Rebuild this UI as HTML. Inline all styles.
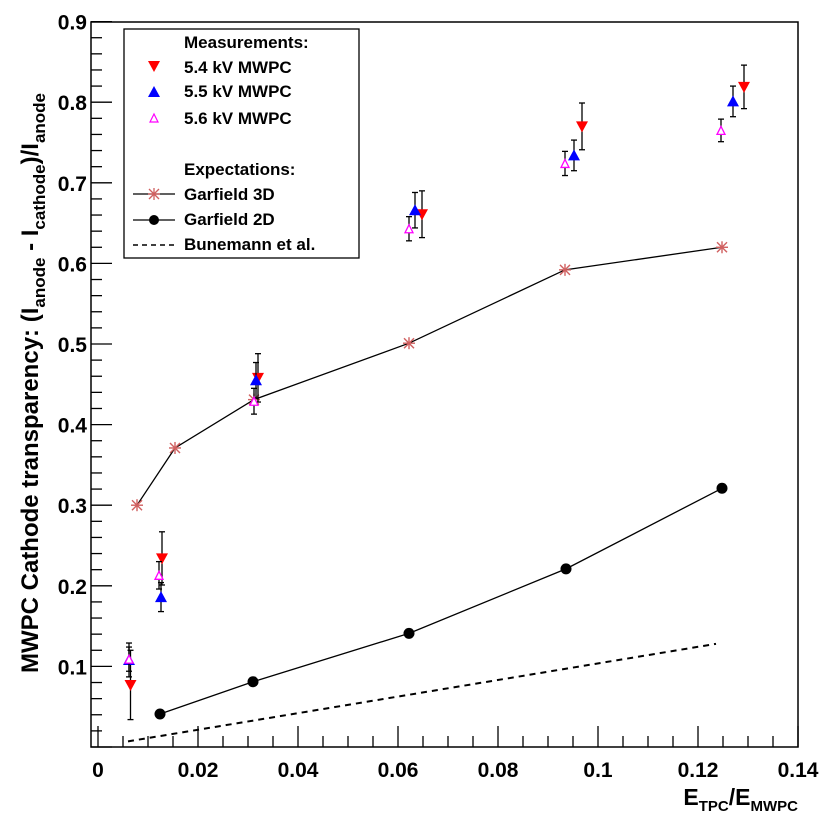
<!DOCTYPE html>
<html><head><meta charset="utf-8"><style>
body{margin:0;background:#fff;}
svg{display:block;font-family:"Liberation Sans",Arial,sans-serif;font-weight:bold;}
</style></head><body>
<svg id="chart" width="831" height="824" viewBox="0 0 831 824" xmlns="http://www.w3.org/2000/svg">
<g id="axes"></g>
<g id="series"></g>
<g>
<rect x="124" y="29" width="235" height="229" fill="#fff" stroke="#000" stroke-width="1.3"/>
<text x="184" y="48" font-size="17">Measurements:</text>
<polygon points="148,61 160,61 154,72" fill="#ff0000"/>
<text x="184" y="73" font-size="17">5.4 kV MWPC</text>
<polygon points="148,97 160,97 154,86" fill="#0000ff"/>
<text x="184" y="97" font-size="17">5.5 kV MWPC</text>
<polygon points="150,122 158,122 154,114" fill="none" stroke="#ff00ff" stroke-width="1.2"/>
<text x="184" y="124" font-size="17">5.6 kV MWPC</text>
<text x="184" y="175" font-size="17">Expectations:</text>
<line x1="133" y1="194" x2="175" y2="194" stroke="#000" stroke-width="1.2"/>
<g stroke="#d06060" stroke-width="1.3"><line x1="149" y1="189" x2="159" y2="199"/><line x1="149" y1="199" x2="159" y2="189"/><line x1="154" y1="188" x2="154" y2="200"/><line x1="148" y1="194" x2="160" y2="194"/></g>
<text x="184" y="200" font-size="17">Garfield 3D</text>
<line x1="133" y1="220" x2="175" y2="220" stroke="#000" stroke-width="1.2"/>
<circle cx="154" cy="220" r="5" fill="#000"/>
<text x="184" y="225" font-size="17">Garfield 2D</text>
<line x1="133" y1="245" x2="175" y2="245" stroke="#000" stroke-width="1.6" stroke-dasharray="5,4"/>
<text x="184" y="250" font-size="17">Bunemann et al.</text>
</g>
<text transform="translate(38,383) rotate(-90)" text-anchor="middle" font-size="24">MWPC Cathode transparency: (I<tspan font-size="17" dy="7">anode</tspan><tspan dy="-7"> - I</tspan><tspan font-size="17" dy="7">cathode</tspan><tspan dy="-7">)/I</tspan><tspan font-size="17" dy="7">anode</tspan></text>
<text x="798" y="805" text-anchor="end" font-size="23">E<tspan font-size="15" dy="6">TPC</tspan><tspan dy="-6">/E</tspan><tspan font-size="15" dy="6">MWPC</tspan></text>
</svg>
<script>
const xTicks=[0,0.02,0.04,0.06,0.08,0.1,0.12,0.14];
const xTickLabels=["0","0.02","0.04","0.06","0.08","0.1","0.12","0.14"];
const yTicks=[0.1,0.2,0.3,0.4,0.5,0.6,0.7,0.8,0.9];
const yTickLabels=["0.1","0.2","0.3","0.4","0.5","0.6","0.7","0.8","0.9"];
const g3dX=[0.0078,0.0154,0.0312,0.0622,0.0934,0.1248];
const g3dY=[0.300,0.371,0.431,0.501,0.592,0.620];
const g2dX=[0.0124,0.031,0.0622,0.0936,0.1248];
const g2dY=[0.041,0.081,0.141,0.221,0.321];
const bunX=[0.006,0.1236];
const bunY=[0.007,0.128];
const m54X=[0.0065,0.0128,0.032,0.0648,0.0968,0.1292];
const m54Y=[0.077,0.234,0.458,0.661,0.770,0.819];
const m54E=[0.043,0.033,0.030,0.029,0.029,0.027];
const m55X=[0.0062,0.0126,0.0316,0.0634,0.0952,0.127];
const m55Y=[0.108,0.186,0.455,0.666,0.734,0.801];
const m55E=[0.021,0.018,0.022,0.022,0.019,0.019];
const m56X=[0.0062,0.0122,0.0312,0.0622,0.0934,0.1246];
const m56Y=[0.109,0.213,0.429,0.643,0.724,0.765];
const m56E=[0.015,0.017,0.016,0.015,0.015,0.014];

const NS="http://www.w3.org/2000/svg";
const L=91,R=798,T=22,B=747;
const sx=v=>98+v*5000;
const sy=v=>747-v*806;
function mk(tag,attrs,parent){const e=document.createElementNS(NS,tag);for(const k in attrs)e.setAttribute(k,attrs[k]);parent.appendChild(e);return e;}
const ax=document.getElementById('axes');
const se=document.getElementById('series');
const frame=mk('rect',{x:L,y:T,width:R-L,height:B-T,fill:'none',stroke:'#000','stroke-width':1.5},ax);


for(let v=0;v<=0.1401;v+=0.005){const major=Math.abs(v/0.02-Math.round(v/0.02))<1e-6;const x=sx(v);
 const t=mk('line',{x1:x,x2:x,y1:B,y2:B-(major?21:11),stroke:'#000','stroke-width':1.3},ax);
 
 }
for(let v=0;v<=0.9001;v+=0.02){const major=Math.abs(v/0.1-Math.round(v/0.1))<1e-6;const y=sy(v);if(y<T-0.5)continue;
 const t=mk('line',{x1:L,x2:L+(major?21:11),y1:y,y2:y,stroke:'#000','stroke-width':1.3},ax);
 
 }
xTicks.forEach((v,i)=>{const t=mk('text',{x:sx(v),y:777,'text-anchor':'middle','font-size':21},ax);t.textContent=xTickLabels[i];
 
 });
yTicks.forEach((v,i)=>{const t=mk('text',{x:87,y:sy(v)+8,'text-anchor':'end','font-size':21},ax);t.textContent=yTickLabels[i];
 
 });
function pl(X,Y,extra,name){const p=mk('polyline',Object.assign({points:X.map((x,i)=>sx(x)+','+sy(Y[i])).join(' '),fill:'none',stroke:'#000','stroke-width':1.3},extra),se);
 
 }
pl(bunX,bunY,{'stroke-dasharray':'6,5','stroke-width':2},'bunemann-line');
pl(g2dX,g2dY,{},'garfield-2d-line');
pl(g3dX,g3dY,{},'garfield-3d-line');
g2dX.forEach((x,i)=>{const c=mk('circle',{cx:sx(x),cy:sy(g2dY[i]),r:5.5,fill:'#000'},se);
 
 });
g3dX.forEach((x,i)=>{const cx=sx(x),cy=sy(g3dY[i]);const g=mk('g',{stroke:'#d06060','stroke-width':1.4},se);
 
 
 mk('line',{x1:cx-5,y1:cy-5,x2:cx+5,y2:cy+5},g);mk('line',{x1:cx-5,y1:cy+5,x2:cx+5,y2:cy-5},g);
 mk('line',{x1:cx,y1:cy-6,x2:cx,y2:cy+6},g);mk('line',{x1:cx-6,y1:cy,x2:cx+6,y2:cy},g);});
function meas(X,Y,E,kind,name){X.forEach((x,i)=>{const cx=sx(x),cy=sy(Y[i]);const g=mk('g',{},se);
 
 
 const y1=sy(Y[i]+E[i]),y2=sy(Y[i]-E[i]);
 mk('line',{x1:cx,x2:cx,y1:y1,y2:y2,stroke:'#000','stroke-width':1.3},g);
 mk('line',{x1:cx-3,x2:cx+3,y1:y1,y2:y1,stroke:'#000','stroke-width':1.3},g);
 mk('line',{x1:cx-3,x2:cx+3,y1:y2,y2:y2,stroke:'#000','stroke-width':1.3},g);
 if(kind==='down')mk('polygon',{points:`${cx-6},${cy-5} ${cx+6},${cy-5} ${cx},${cy+6}`,fill:'#ff0000'},g);
 else if(kind==='up')mk('polygon',{points:`${cx-6},${cy+5} ${cx+6},${cy+5} ${cx},${cy-6}`,fill:'#0000ff'},g);
 else mk('polygon',{points:`${cx-4},${cy+4} ${cx+4},${cy+4} ${cx},${cy-4}`,fill:'#fff',stroke:'#ff00ff','stroke-width':1.3},g);});}
meas(m54X,m54Y,m54E,'down','measurement-5-4kv');
meas(m55X,m55Y,m55E,'up','measurement-5-5kv');
meas(m56X,m56Y,m56E,'open','measurement-5-6kv');
</script>
</body></html>
